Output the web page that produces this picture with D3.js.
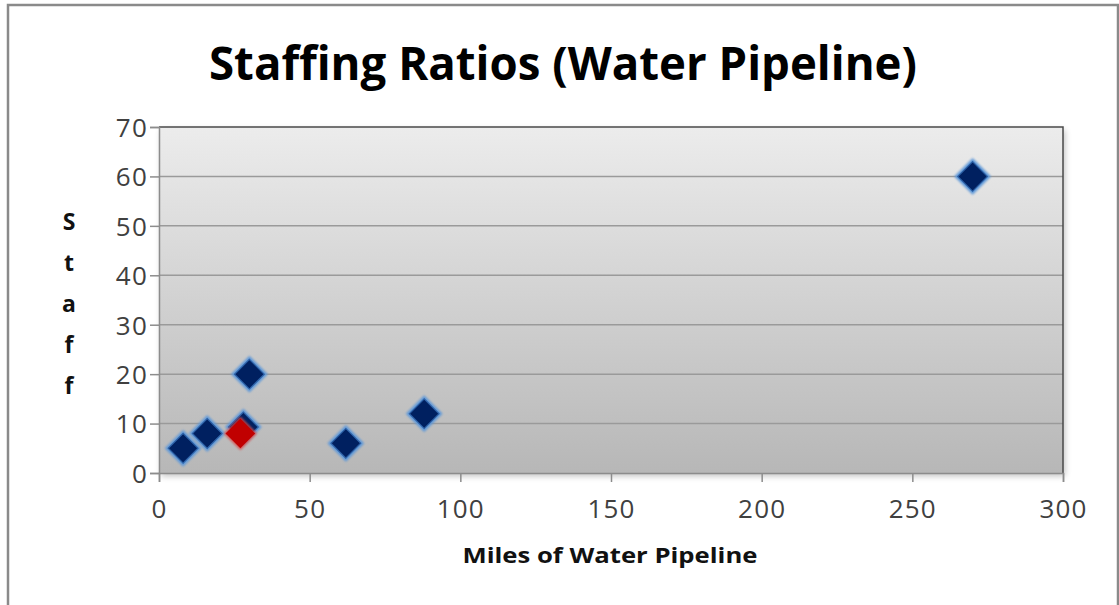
<!DOCTYPE html>
<html>
<head>
<meta charset="utf-8">
<script src="https://cdn.jsdelivr.net/npm/d3@7"></script>
<style>
  html, body { margin: 0; padding: 0; background: #fff; }
  svg { display: block; }
</style>
</head>
<body>
<svg id="chart" width="1119" height="605"></svg>
<script>
// Utilities: miles of water pipeline vs. staff count
const utilityMiles = [8, 16, 28, 30, 62, 88, 270];
const utilityStaff = [5, 8, 9.3, 20, 6, 12, 60];
// Highlighted utility
const highlightMiles = [27];
const highlightStaff = [8];

const xTicks = [0, 50, 100, 150, 200, 250, 300];
const yTicks = [0, 10, 20, 30, 40, 50, 60, 70];
const titleText = "Staffing Ratios (Water Pipeline)";
const xTitle = "Miles of Water Pipeline";
const yTitle = "Staff";

const svg = d3.select("#chart");
const W = 1119, H = 605;
const plot = { left: 159, right: 1063, top: 127, bottom: 473 };

const x = d3.scaleLinear().domain([0, 300]).range([plot.left, plot.right]);
const y = d3.scaleLinear().domain([0, 70]).range([plot.bottom, plot.top]);

const defs = svg.append("defs");
const grad = defs.append("linearGradient")
  .attr("id", "plotBg").attr("x1", 0).attr("y1", 0).attr("x2", 0).attr("y2", 1);
grad.append("stop").attr("offset", "0%").attr("stop-color", "#ececec");
grad.append("stop").attr("offset", "100%").attr("stop-color", "#b7b7b7");

const glow = defs.append("filter").attr("id", "soft")
  .attr("x", "-50%").attr("y", "-50%").attr("width", "200%").attr("height", "200%");
glow.append("feGaussianBlur").attr("stdDeviation", 1);

const shadow = defs.append("filter").attr("id", "shadow")
  .attr("x", "-5%").attr("y", "-5%").attr("width", "110%").attr("height", "115%");
shadow.append("feGaussianBlur").attr("in", "SourceAlpha").attr("stdDeviation", 3);
shadow.append("feOffset").attr("dx", 2).attr("dy", 3).attr("result", "b");
shadow.append("feComponentTransfer").append("feFuncA").attr("type", "linear").attr("slope", 0.25);
const merge = shadow.append("feMerge");
merge.append("feMergeNode");
merge.append("feMergeNode").attr("in", "SourceGraphic");

// Chart frame
svg.append("path")
  .attr("d", `M8,${H} L8,5 L1118,5 L1118,${H}`)
  .attr("fill", "none").attr("stroke", "#8a8a8a").attr("stroke-width", 2.5);

// Title
svg.append("text")
  .attr("x", 563).attr("y", 80)
  .attr("text-anchor", "middle")
  .attr("font-family", "'Open Sans', 'DejaVu Sans', sans-serif")
  .attr("font-weight", "bold").attr("font-size", 47)
  .attr("textLength", 708).attr("lengthAdjust", "spacingAndGlyphs")
  .attr("fill", "#000")
  .text(titleText);

// Plot background
svg.append("rect")
  .attr("x", plot.left).attr("y", plot.top)
  .attr("width", plot.right - plot.left).attr("height", plot.bottom - plot.top)
  .attr("fill", "url(#plotBg)")
  .attr("filter", "url(#shadow)");

// Gridlines
svg.append("g").selectAll("line")
  .data(yTicks.filter(t => t > 0 && t < 70))
  .join("line")
  .attr("x1", plot.left).attr("x2", plot.right)
  .attr("y1", d => y(d)).attr("y2", d => y(d))
  .attr("stroke", "#9a9a9a").attr("stroke-width", 1.5);

// Plot border: dark top/right
svg.append("path")
  .attr("d", `M${plot.left},${plot.top} L${plot.right},${plot.top} L${plot.right},${plot.bottom}`)
  .attr("fill", "none").attr("stroke", "#4a4a4a").attr("stroke-width", 1.5);

// Y axis
const yAxis = svg.append("g")
  .attr("transform", `translate(${plot.left},0)`)
  .call(d3.axisLeft(y).tickValues(yTicks).tickSize(9).tickPadding(5));
// X axis
const xAxis = svg.append("g")
  .attr("transform", `translate(0,${plot.bottom})`)
  .call(d3.axisBottom(x).tickValues(xTicks).tickSize(9).tickPadding(18));

[yAxis, xAxis].forEach(g => {
  g.select(".domain").attr("stroke", "#8c8c8c").attr("stroke-width", 1.5);
  g.selectAll(".tick line").attr("stroke", "#8c8c8c").attr("stroke-width", 1.5);
  g.selectAll(".tick text")
    .attr("font-family", "'Open Sans', 'DejaVu Sans', sans-serif")
    .attr("font-size", 26).attr("letter-spacing", 1.2).attr("fill", "#404040");
});
yAxis.selectAll(".tick text").attr("dy", "0.36em").attr("x", -11);
xAxis.selectAll(".tick text").attr("dy", "0.71em");

// Axis titles
svg.append("text")
  .attr("x", 610).attr("y", 563)
  .attr("text-anchor", "middle")
  .attr("font-family", "'Open Sans', 'DejaVu Sans', sans-serif")
  .attr("font-weight", "bold").attr("font-size", 22)
  .attr("textLength", 295).attr("lengthAdjust", "spacingAndGlyphs")
  .attr("fill", "#111")
  .text(xTitle);

svg.append("g").selectAll("text")
  .data(yTitle.split(""))
  .join("text")
  .attr("x", 69).attr("y", (d, i) => 230 + i * 41)
  .attr("text-anchor", "middle")
  .attr("font-family", "'Open Sans', 'DejaVu Sans', sans-serif")
  .attr("font-weight", "bold").attr("font-size", 23)
  .attr("fill", "#111")
  .text(d => d);

// Diamond markers
const diamond = d3.symbol().type(d3.symbolSquare).size(440);
const blue = d3.zip(utilityMiles, utilityStaff);
const red = d3.zip(highlightMiles, highlightStaff);

const markers = svg.append("g");
markers.selectAll("path.halo")
  .data(blue).join("path").attr("class", "halo")
  .attr("d", diamond)
  .attr("transform", d => `translate(${x(d[0])},${y(d[1])}) rotate(45)`)
  .attr("fill", "none").attr("stroke", "#5f98d8").attr("stroke-width", 5)
  .attr("filter", "url(#soft)");
markers.selectAll("path.blue")
  .data(blue).join("path").attr("class", "blue")
  .attr("d", diamond)
  .attr("transform", d => `translate(${x(d[0])},${y(d[1])}) rotate(45)`)
  .attr("fill", "#002060").attr("stroke", "#2d62a8").attr("stroke-width", 1.2);

markers.selectAll("path.redhalo")
  .data(red).join("path").attr("class", "redhalo")
  .attr("d", diamond)
  .attr("transform", d => `translate(${x(d[0])},${y(d[1])}) rotate(45)`)
  .attr("fill", "none").attr("stroke", "#d94a4a").attr("stroke-width", 2.5)
  .attr("filter", "url(#soft)");
markers.selectAll("path.red")
  .data(red).join("path").attr("class", "red")
  .attr("d", diamond)
  .attr("transform", d => `translate(${x(d[0])},${y(d[1])}) rotate(45)`)
  .attr("fill", "#c00000");
</script>
</body>
</html>
